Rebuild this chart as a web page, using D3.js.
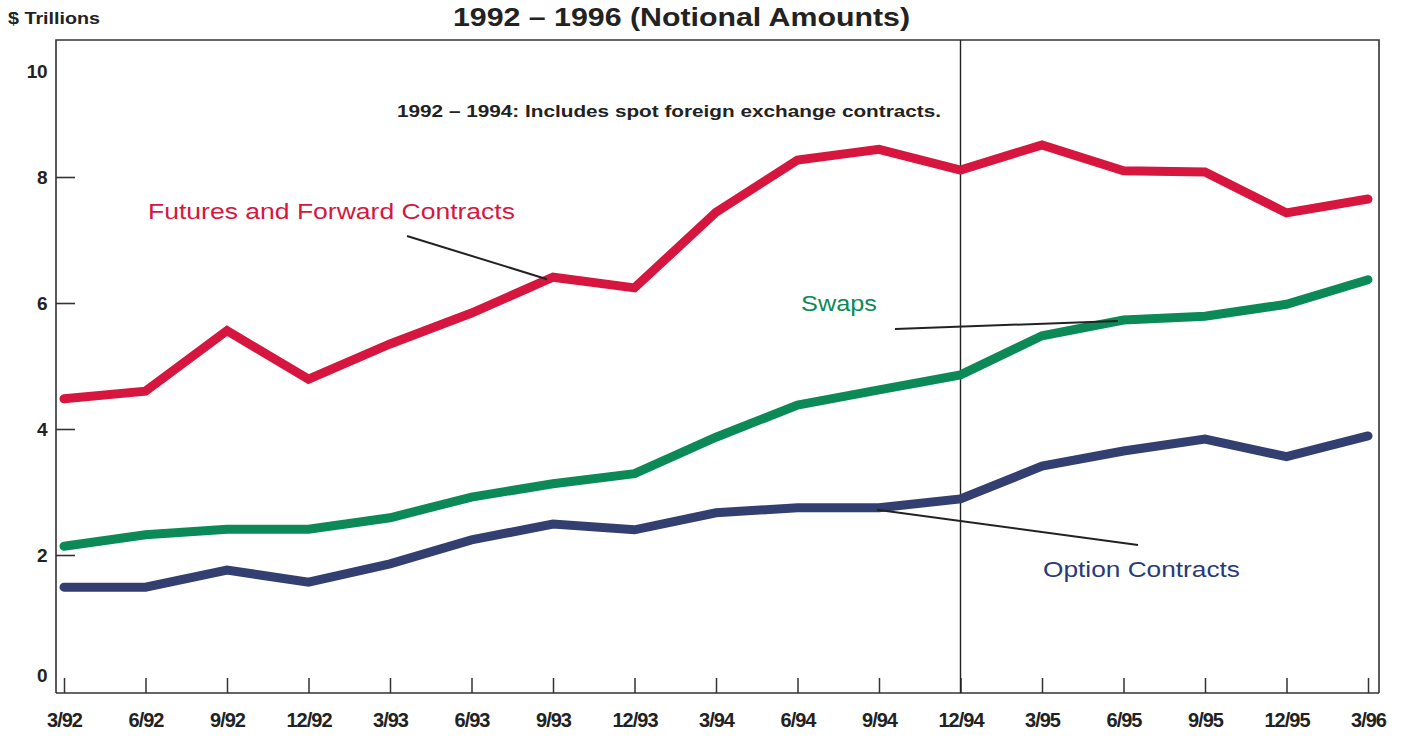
<!DOCTYPE html>
<html><head><meta charset="utf-8">
<script src="https://cdn.jsdelivr.net/npm/d3@7"></script>
<style>body{margin:0;background:#fff}svg{display:block}text{font-family:"Liberation Sans",Arial,sans-serif}</style>
</head><body><svg id="c" width="1409" height="738"></svg>
<script>
const quarters = ["3/92","6/92","9/92","12/92","3/93","6/93","9/93","12/93","3/94","6/94","9/94","12/94","3/95","6/95","9/95","12/95","3/96"];
const futures = [4.48,4.6,5.56,4.79,5.35,5.84,6.41,6.24,7.44,8.27,8.44,8.11,8.51,8.1,8.08,7.43,7.65];
const swaps   = [2.14,2.32,2.41,2.41,2.59,2.92,3.13,3.29,3.87,4.38,4.62,4.86,5.48,5.73,5.79,5.98,6.37];
const options = [1.49,1.49,1.76,1.57,1.86,2.24,2.49,2.40,2.67,2.75,2.75,2.89,3.41,3.65,3.84,3.56,3.89];
const yTicks = [0,2,4,6,8,10];
const title = "1992  \u2013  1996 (Notional Amounts)";
const note = "1992  \u2013  1994: Includes spot foreign exchange contracts.";
const yUnit = "$ Trillions";
const dividerAt = "12/94";

const svg = d3.select("#c");
const L=56, R=1379, T=40, B=693;
const x = d3.scalePoint().domain(quarters).range([64,1368]);
const y = d3.scaleLinear().domain([0,10]).range([681,51]);
const ink = "#222";

// frame
svg.append("path").attr("d",`M${L},${B}V${T}H${R}V${B}`).attr("fill","none").attr("stroke","#333").attr("stroke-width",1.6);

// x axis
const xa = svg.append("g").attr("transform",`translate(0,${B})`)
  .call(d3.axisBottom(x).tickSize(0).tickPadding(0));
xa.select(".domain").attr("d",`M${L},0H${R}`).attr("stroke","#333").attr("stroke-width",1.6);
xa.selectAll(".tick line").attr("y2",-15).attr("stroke","#333").attr("stroke-width",1.5);
xa.selectAll(".tick text").attr("y",20).attr("font-size",20).attr("font-weight","bold").attr("fill",ink)
  .attr("letter-spacing","-1");

// y axis
const ya = svg.append("g").attr("transform",`translate(${L},0)`)
  .call(d3.axisRight(y).tickValues(yTicks).tickSize(0).tickPadding(0));
ya.select(".domain").remove();
ya.selectAll(".tick line").attr("x2",d=>(d>0&&d<10)?19:0).attr("stroke","#333").attr("stroke-width",1.6);
ya.selectAll(".tick text").attr("x",-9).attr("text-anchor","end").attr("font-size",19).attr("font-weight","bold").attr("fill",ink)
  .attr("letter-spacing","-0.5")
  .attr("dy",d=>d===10?"1.42em":d===0?"0.0em":"0.35em");

// divider
svg.append("line").attr("x1",x(dividerAt)).attr("x2",x(dividerAt)).attr("y1",T).attr("y2",B).attr("stroke","#222").attr("stroke-width",1.4);

// texts
svg.append("text").attr("x",8).attr("y",24).attr("font-size",17).attr("font-weight","bold").attr("fill",ink)
  .attr("textLength",92).attr("lengthAdjust","spacingAndGlyphs").text(yUnit);
svg.append("text").attr("x",453).attr("y",26).attr("font-size",26).attr("font-weight","bold").attr("fill",ink)
  .attr("textLength",457).attr("lengthAdjust","spacingAndGlyphs").text(title);
svg.append("text").attr("x",397).attr("y",117).attr("font-size",17).attr("font-weight","bold").attr("fill",ink)
  .attr("textLength",544).attr("lengthAdjust","spacingAndGlyphs").text(note);

// lines
const line = d3.line().x((d,i)=>x(quarters[i])).y(d=>y(d));
const series = [
  {v:futures,c:"#d6163f"},
  {v:swaps,c:"#0b8a57"},
  {v:options,c:"#323f70"}
];
series.forEach(s=>{
  svg.append("path").datum(s.v).attr("d",line).attr("fill","none").attr("stroke",s.c)
    .attr("stroke-width",9).attr("stroke-linejoin","miter").attr("stroke-linecap","round");
});

// leaders
function leader(x1,y1,x2,y2){svg.append("line").attr("x1",x1).attr("y1",y1).attr("x2",x2).attr("y2",y2).attr("stroke","#222").attr("stroke-width",2);}
leader(407,236, x("9/93")-6, y(futures[6])+2);
leader(895,329, 1118,321);
leader(x("9/94")-2, y(options[10])+2, 1138,545);

// labels
svg.append("text").attr("x",148).attr("y",219).attr("font-size",22).attr("fill","#d6163f")
  .attr("textLength",367).attr("lengthAdjust","spacingAndGlyphs").text("Futures and Forward Contracts");
svg.append("text").attr("x",801).attr("y",311).attr("font-size",22).attr("fill","#0b8a57")
  .attr("textLength",76).attr("lengthAdjust","spacingAndGlyphs").text("Swaps");
svg.append("text").attr("x",1043).attr("y",577).attr("font-size",22).attr("fill","#2a3a78")
  .attr("textLength",197).attr("lengthAdjust","spacingAndGlyphs").text("Option Contracts");
</script></body></html>
